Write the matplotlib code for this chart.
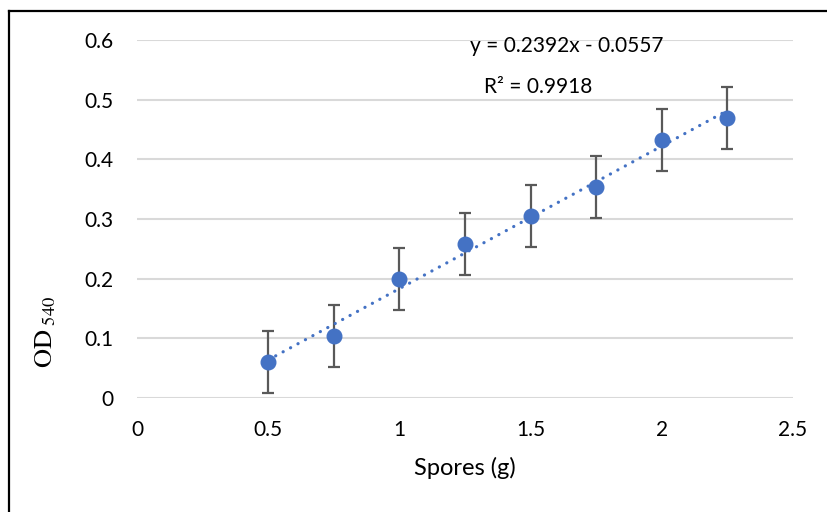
import numpy as np
import matplotlib.pyplot as plt
from matplotlib.lines import Line2D

spores = [0.5, 0.75, 1.0, 1.25, 1.5, 1.75, 2.0, 2.25]
od = [0.061, 0.104, 0.199, 0.258, 0.305, 0.353, 0.433, 0.470]
err = [0.052, 0.052, 0.052, 0.052, 0.052, 0.052, 0.052, 0.052]
xticks = [0, 0.5, 1, 1.5, 2, 2.5]
yticks = [0, 0.1, 0.2, 0.3, 0.4, 0.5, 0.6]
eq_text = "y = 0.2392x - 0.0557"
r2_text = "R² = 0.9918"

plt.rcParams['font.family'] = ['Lato', 'DejaVu Sans']
plt.rcParams['mathtext.fontset'] = 'stix'

blue = '#4472C4'
grey = '#595959'

fig = plt.figure(figsize=(8.27, 5.12), dpi=100)
ax = fig.add_axes([137/827, 1-398/512, (793-137)/827, (398-40)/512])

# trendline
slope, icpt = np.polyfit(spores, od, 1)
xt = np.array([spores[0], spores[-1]])
ax.plot(xt, slope*xt + icpt, color=blue, lw=2.3, dashes=(0.05, 2.6),
        dash_capstyle='round', zorder=3)

ax.errorbar(spores, od, yerr=err, fmt='none', ecolor=grey, elinewidth=1.6,
            capsize=4.5, capthick=1.6, zorder=2)
ax.plot(spores, od, 'o', color=blue, markersize=10.5, zorder=4)

ax.set_xlim(0, 2.5)
ax.set_ylim(0, 0.6)
ax.set_xticks(xticks)
ax.set_xticklabels([f"{v:g}" for v in xticks])
ax.set_yticks(yticks)
ax.set_yticklabels([f"{v:g}" for v in yticks])
ax.tick_params(length=0, labelsize=15, colors='black')
ax.tick_params(axis='y', pad=17)
ax.tick_params(axis='x', pad=16)
ax.grid(axis='y', color='#D9D9D9', lw=1.5)
ax.set_axisbelow(True)
for s in ax.spines.values():
    s.set_visible(False)

fig.text(465/827, 1-468/512, "Spores (g)", ha='center', va='center', fontsize=17)
fig.text(45/827, 1-332/512, r"$\mathrm{OD}_{\ 540}$", rotation=90,
         ha='center', va='center', fontsize=19)

fig.text(567/827, 1-46/512, eq_text, ha='center', va='center', fontsize=15)
fig.text(538/827, 1-87/512, r2_text, ha='center', va='center', fontsize=15)

# frame round the chart (top and left edges visible)
fig.add_artist(Line2D([9/827, 1], [1-11/512, 1-11/512], color='black', lw=1.6,
                      transform=fig.transFigure))
fig.add_artist(Line2D([9/827, 9/827], [0, 1-11/512], color='black', lw=1.6,
                      transform=fig.transFigure))

fig.savefig("out.png", dpi=100)
